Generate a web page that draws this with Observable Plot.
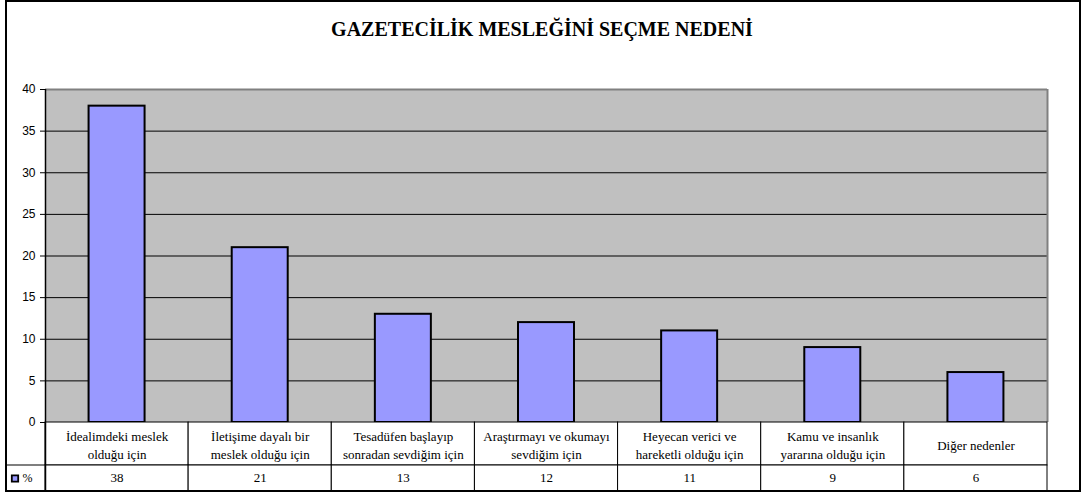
<!DOCTYPE html>
<html>
<head>
<meta charset="utf-8">
<script src="https://cdn.jsdelivr.net/npm/d3@7"></script>
<script src="https://cdn.jsdelivr.net/npm/@observablehq/plot@0.6"></script>
<style>
  html, body { margin: 0; padding: 0; background: #ffffff; }
  #wrap { position: relative; width: 1083px; height: 493px; overflow: hidden; }
  #outer { position: absolute; left: 5px; top: 0px; width: 1076px; height: 492px; box-sizing: border-box; border: 2px solid #000; pointer-events: none; }
</style>
</head>
<body>
<div id="wrap"><div id="outer"></div></div>
<script>
const title = "GAZETECİLİK MESLEĞİNİ SEÇME NEDENİ";
const categories = [
  "İdealimdeki meslek\nolduğu için",
  "İletişime dayalı bir\nmeslek olduğu için",
  "Tesadüfen başlayıp\nsonradan sevdiğim için",
  "Araştırmayı ve okumayı\nsevdiğim için",
  "Heyecan verici ve\nhareketli olduğu için",
  "Kamu ve insanlık\nyararına olduğu için",
  "Diğer nedenler"
];
const values = [38, 21, 13, 12, 11, 9, 6];
const seriesName = "%";
const yTicks = [0, 5, 10, 15, 20, 25, 30, 35, 40];

// layout
const W = 1083, H = 493, mL = 45, mR = 36, mT = 89, mB = 71;
const n = categories.length;
const yMax = 40;
const ppu = (H - mT - mB) / yMax;
const step = (W - mL - mR) / n;
const row1 = -43 / ppu;   // bottom of category row
const row2 = -69 / ppu;   // bottom of value row
const xLeft = -(mL - 6) / step; // left edge of the legend column
const barInset = (step - 56) / 2;
const serif = "'Liberation Serif', 'Times New Roman', Times, serif";
const sans = "'Liberation Sans', Arial, sans-serif";

const rows = categories.map((c, i) => ({i, label: c, value: values[i]}));

const chart = Plot.plot({
  width: W,
  height: H,
  marginLeft: mL,
  marginRight: mR,
  marginTop: mT,
  marginBottom: mB,
  style: {fontFamily: serif, fontSize: "13px", color: "#000", background: "transparent"},
  x: {domain: [0, n], axis: null},
  y: {domain: [0, yMax], axis: null},
  marks: [
    // plot area background
    Plot.rect([0], {x1: 0, x2: n, y1: 0, y2: yMax, fill: "#c0c0c0"}),
    // gridlines
    Plot.ruleY(yTicks.filter(t => t > 0 && t < yMax), {stroke: "#000", strokeWidth: 1}),
    // plot area border (top/right)
    Plot.ruleY([yMax], {stroke: "#808080", strokeWidth: 2}),
    Plot.ruleX([n], {y1: 0, y2: yMax, stroke: "#808080", strokeWidth: 2}),
    // bars
    Plot.rect(rows, {x1: "i", x2: d => d.i + 1, y1: 0, y2: "value", insetLeft: barInset, insetRight: barInset, fill: "#9999ff", stroke: "#000", strokeWidth: 2}),
    // data table cells
    Plot.rect(rows, {x1: "i", x2: d => d.i + 1, y1: 0, y2: row1, fill: "#fff", stroke: "#000", strokeWidth: 1}),
    Plot.rect(rows, {x1: "i", x2: d => d.i + 1, y1: row1, y2: row2, fill: "#fff", stroke: "#000", strokeWidth: 1}),
    Plot.rect([0], {x1: xLeft, x2: 0, y1: row1, y2: row2, fill: "#fff", stroke: "#000", strokeWidth: 1}),
    // y axis line
    Plot.ruleX([0], {y1: row2, y2: yMax, stroke: "#000", strokeWidth: 1.5}),
    // category labels
    Plot.text(rows, {x: d => d.i + 0.5, y: 0, dy: 22, text: "label", lineHeight: 1.38, fontSize: 13, fontFamily: serif, fill: "#000", lineAnchor: "middle"}),
    // values
    Plot.text(rows, {x: d => d.i + 0.5, y: (row1 + row2) / 2, dy: -1, text: d => String(d.value), fontSize: 13, fontFamily: serif, fill: "#000", lineAnchor: "middle"}),
    // legend key
    Plot.dot([0], {x: xLeft, y: (row1 + row2) / 2, dx: 8.5, symbol: "square", r: 3.6, fill: "#9999ff", stroke: "#000", strokeWidth: 1.8}),
    Plot.text([seriesName], {x: xLeft, y: (row1 + row2) / 2, dx: 16, text: d => d, textAnchor: "start", fontSize: 12, fontFamily: serif, fill: "#000", lineAnchor: "middle"}),
    // title
    Plot.text([title], {x: n / 2, y: yMax, dx: -4.5, dy: -60, text: d => d, fontSize: 20, fontFamily: serif, fontWeight: "bold", fill: "#000", lineAnchor: "middle"}),
    // y axis
    Plot.axisY({ticks: yTicks, tickSize: 5, tickPadding: 5, label: null, fontSize: 12, fontFamily: sans, color: "#000"})
  ]
});
document.getElementById("wrap").prepend(chart);
</script>
</body>
</html>
